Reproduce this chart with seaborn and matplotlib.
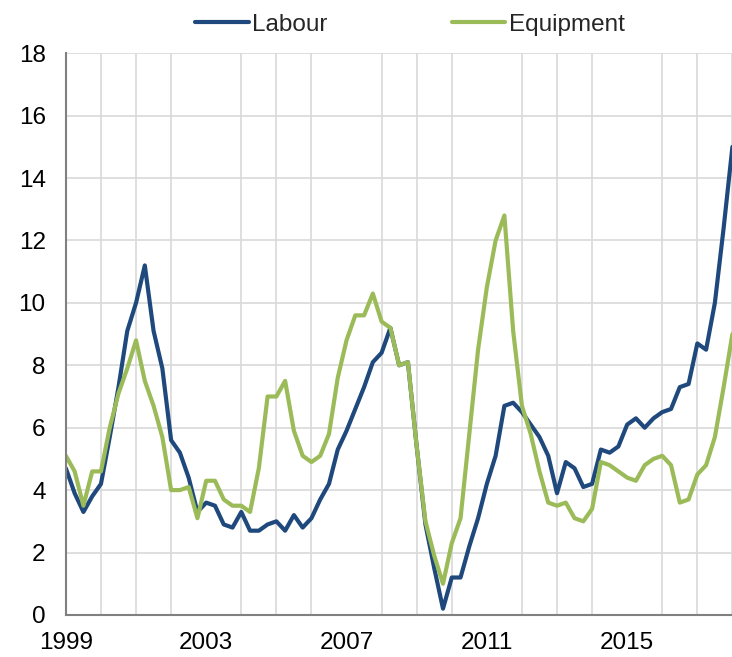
import numpy as np
import pandas as pd
import matplotlib
matplotlib.use("Agg")
import matplotlib.pyplot as plt
import seaborn as sns

# quarterly growth rates, 1999Q1 - 2018Q1
labour = [4.7, 3.9, 3.3, 3.8, 4.2, 5.7, 7.3, 9.1, 10.0, 11.2, 9.1, 7.9,
          5.6, 5.2, 4.4, 3.3, 3.6, 3.5, 2.9, 2.8, 3.3, 2.7, 2.7, 2.9,
          3.0, 2.7, 3.2, 2.8, 3.1, 3.7, 4.2, 5.3, 5.9, 6.6, 7.3, 8.1,
          8.4, 9.2, 8.0, 8.1, 5.4, 2.9, 1.5, 0.2, 1.2, 1.2, 2.2, 3.1,
          4.2, 5.1, 6.7, 6.8, 6.5, 6.1, 5.7, 5.1, 3.9, 4.9, 4.7, 4.1,
          4.2, 5.3, 5.2, 5.4, 6.1, 6.3, 6.0, 6.3, 6.5, 6.6, 7.3, 7.4,
          8.7, 8.5, 10.0, 12.4, 15.0]
equipment = [5.1, 4.6, 3.5, 4.6, 4.6, 6.0, 7.1, 7.9, 8.8, 7.5, 6.7, 5.7,
             4.0, 4.0, 4.1, 3.1, 4.3, 4.3, 3.7, 3.5, 3.5, 3.3, 4.7, 7.0,
             7.0, 7.5, 5.9, 5.1, 4.9, 5.1, 5.8, 7.6, 8.8, 9.6, 9.6, 10.3,
             9.4, 9.2, 8.0, 8.1, 5.4, 3.0, 1.9, 1.0, 2.3, 3.1, 5.8, 8.5,
             10.5, 12.0, 12.8, 9.1, 6.7, 5.8, 4.6, 3.6, 3.5, 3.6, 3.1, 3.0,
             3.4, 4.9, 4.8, 4.6, 4.4, 4.3, 4.8, 5.0, 5.1, 4.8, 3.6, 3.7,
             4.5, 4.8, 5.7, 7.3, 9.0]

quarters = pd.period_range("1999Q1", periods=len(labour), freq="Q")
year_frac = quarters.year + (quarters.quarter - 1) / 4

df = pd.DataFrame({"date": year_frac, "Labour": labour, "Equipment": equipment})
long_df = df.melt(id_vars="date", var_name="series", value_name="value")

sns.set_style("white")
plt.rcParams["font.family"] = ["Liberation Sans", "DejaVu Sans"]

fig = plt.figure(figsize=(7.32, 6.57), dpi=100)
ax = fig.add_axes([0.090, 0.064, 0.912, 0.855])

sns.lineplot(data=long_df, x="date", y="value", hue="series",
             palette={"Labour": "#1f497d", "Equipment": "#9bbb59"},
             linewidth=3.0, ax=ax)

ax.set_xlim(1999, 2018.03)
ax.set_ylim(0, 18)
ax.set_yticks(np.arange(0, 19, 2))
ax.set_xticks([1999, 2003, 2007, 2011, 2015])
ax.set_xticks(np.arange(1999, 2019), minor=True)
ax.set_xlabel("")
ax.set_ylabel("")

ax.grid(True, which="major", axis="y", color="#d9d9d9", linewidth=1.2)
ax.grid(True, which="minor", axis="x", color="#d9d9d9", linewidth=1.2)
ax.set_axisbelow(True)

for side in ["top", "right"]:
    ax.spines[side].set_visible(False)
for side in ["left", "bottom"]:
    ax.spines[side].set_color("#808080")
    ax.spines[side].set_linewidth(1.5)

ax.tick_params(axis="both", which="major", labelsize=17.5, colors="#808080",
               labelcolor="black", length=6.5, width=1.2, direction="out")
ax.tick_params(axis="x", which="minor", length=0)
ax.tick_params(axis="x", pad=6)
ax.tick_params(axis="y", pad=8)

sns.move_legend(ax, "upper center", bbox_to_anchor=(0.56, 1.012),
                bbox_transform=fig.transFigure, ncol=2, frameon=False,
                title=None, fontsize=17.5, columnspacing=5.1,
                handlelength=2.2, handletextpad=0.15)

fig.savefig("out.png", dpi=100)
